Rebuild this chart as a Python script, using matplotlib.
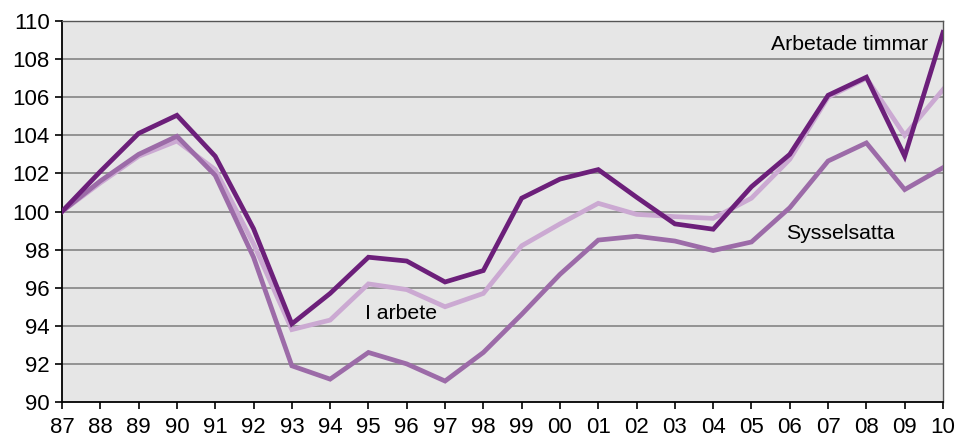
import numpy as np
import matplotlib.pyplot as plt

plt.rcParams['font.family'] = ['Liberation Sans', 'DejaVu Sans']

# Years (tick labels) and the three index series (1987 = 100).
years = ['87', '88', '89', '90', '91', '92', '93', '94', '95', '96', '97', '98',
         '99', '00', '01', '02', '03', '04', '05', '06', '07', '08', '09', '10']
arbetade_timmar = [100.0, 102.1, 104.1, 105.05, 102.9, 99.1, 94.1, 95.7, 97.6,
                   97.4, 96.3, 96.9, 100.7, 101.7, 102.2, 100.75, 99.35, 99.07,
                   101.3, 103.0, 106.1, 107.05, 102.9, 109.4]
i_arbete = [100.0, 101.5, 102.9, 103.7, 102.2, 98.3, 93.8, 94.3, 96.2, 95.9,
            95.0, 95.7, 98.2, 99.35, 100.43, 99.85, 99.73, 99.64, 100.7, 102.74,
            106.0, 107.0, 104.0, 106.4]
sysselsatta = [100.0, 101.6, 103.0, 103.95, 101.9, 97.6, 91.9, 91.2, 92.6, 92.0,
               91.1, 92.6, 94.6, 96.7, 98.5, 98.7, 98.45, 97.95, 98.4, 100.2,
               102.65, 103.6, 101.15, 102.3]

x = np.arange(len(years))

fig = plt.figure(figsize=(9.56, 4.42), dpi=100)
ax = fig.add_axes([62 / 956, 1 - 402 / 442, (943 - 62) / 956, (402 - 21) / 442])
ax.set_facecolor('#E6E6E6')

# Grid lines behind the series.
for v in range(92, 110, 2):
    ax.axhline(v, color='#8C8C8C', lw=1.3, zorder=1)

ax.plot(x, i_arbete, color='#CBA9D2', lw=3.4, zorder=2, solid_joinstyle='miter')
ax.plot(x, sysselsatta, color='#9C6BA8', lw=3.4, zorder=3, solid_joinstyle='miter')
ax.plot(x, arbetade_timmar, color='#6C1F7A', lw=3.4, zorder=4, solid_joinstyle='miter')

ax.set_xlim(0, len(years) - 1)
ax.set_ylim(90, 110)
ax.set_yticks(range(90, 111, 2))
ax.set_xticks(x)
ax.set_xticklabels(years)
ax.tick_params(axis='both', labelsize=16, direction='out', length=5,
               width=1.2, color='black')
ax.tick_params(axis='x', pad=6)
ax.tick_params(axis='y', pad=4)

for side in ['left', 'bottom']:
    ax.spines[side].set_color('black')
    ax.spines[side].set_linewidth(1.3)
for side in ['top', 'right']:
    ax.spines[side].set_color('#555555')
    ax.spines[side].set_linewidth(1.0)

ax.text(22.6, 108.75, 'Arbetade timmar', fontsize=15.3, ha='right', va='center', zorder=5)
ax.text(7.9, 94.67, 'I arbete', fontsize=15.3, ha='left', va='center', zorder=5)
ax.text(18.9, 98.87, 'Sysselsatta', fontsize=15.3, ha='left', va='center', zorder=5)

fig.savefig('out.png', dpi=100)
